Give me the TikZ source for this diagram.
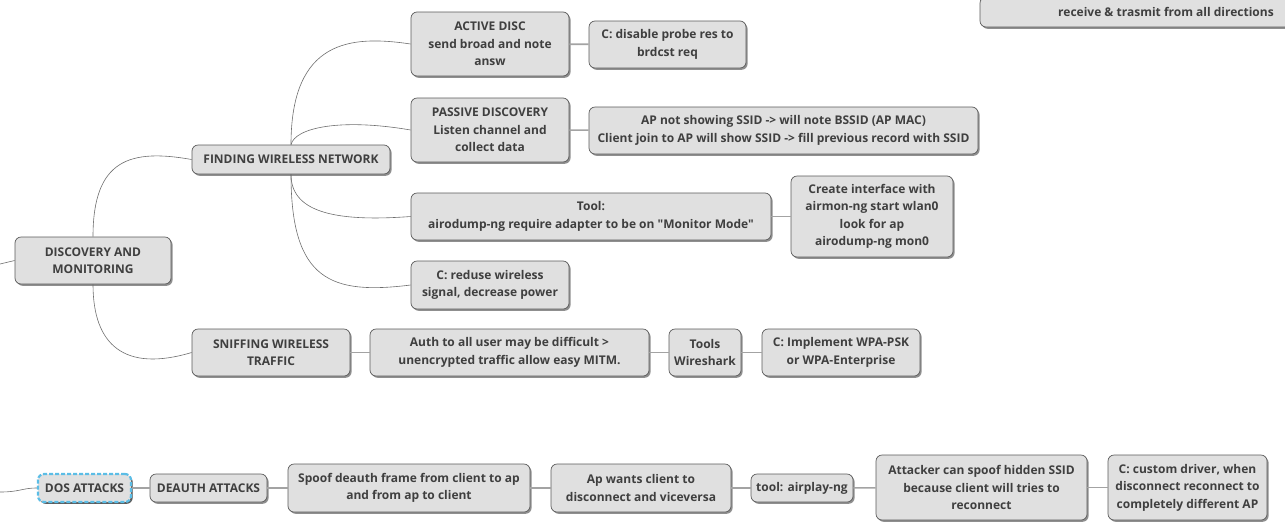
\documentclass[tikz,border=0pt]{standalone}
\usepackage{fontspec}
\setmainfont{Open Sans}[Ligatures=TeXOff]
\usetikzlibrary{shadows}
\definecolor{boxfill}{HTML}{E0E0E0}
\definecolor{boxline}{HTML}{5A5A5A}
\definecolor{boxtext}{HTML}{3F3F3F}
\definecolor{linkgray}{HTML}{A3A3A3}
\definecolor{branchgray}{HTML}{6E6E6E}
\definecolor{selblue}{HTML}{5BBDE6}

\begin{document}
\begin{tikzpicture}[x=1pt, y=-1pt,
    topic/.style={draw=boxline, fill=boxfill, rounded corners=6pt, line width=0.7pt,
      text=boxtext, font=\fontsize{12}{17.5}\selectfont\bfseries, align=center, inner sep=2pt,
      drop shadow={shadow xshift=1.6pt, shadow yshift=-1.8pt, fill=black!55, opacity=0.8}},
    link/.style={draw=linkgray, line width=1.6pt},
    branch/.style={draw=branchgray, line width=0.6pt}]
      \useasboundingbox (0,0) rectangle (1285,531);

      \node[topic, minimum width=372pt, minimum height=30pt] (omni) at (1166,12) {receive \& trasmit from all directions};

      \node[topic, minimum width=156pt, minimum height=47pt] (disc) at (93,260.5) {DISCOVERY AND\\MONITORING};
      \node[topic, minimum width=198pt, minimum height=29pt] (findnet) at (291,159.5) {FINDING WIRELESS NETWORK};
      \node[topic, minimum width=158pt, minimum height=64pt] (activedisc) at (490,44) {ACTIVE DISC\\send broad and note\\answ};
      \node[topic, minimum width=157pt, minimum height=47pt] (probefix) at (667.5,44.5) {C: disable probe res to\\brdcst req};
      \node[topic, minimum width=158pt, minimum height=64pt] (passivedisc) at (490,130) {PASSIVE DISCOVERY\\Listen channel and\\collect data};
      \node[topic, minimum width=389pt, minimum height=47pt] (hiddenssid) at (783.5,130.5) {AP not showing SSID -> will note BSSID (AP MAC)\\Client join to AP will show SSID -> fill previous record with SSID};
      \node[topic, minimum width=360pt, minimum height=47pt] (airodump) at (591,216.5) {Tool:\\airodump-ng require adapter to be on "Monitor Mode"};
      \node[topic, minimum width=162pt, minimum height=81pt] (airmon) at (872,216.5) {Create interface with\\airmon-ng start wlan0\\look for ap\\airodump-ng mon0};
      \node[topic, minimum width=158pt, minimum height=48pt] (reducesig) at (490,285) {C: reduse wireless\\signal, decrease power};

      \node[topic, minimum width=158pt, minimum height=47pt] (sniff) at (271,352.5) {SNIFFING WIRELESS\\TRAFFIC};
      \node[topic, minimum width=279pt, minimum height=47pt] (authmitm) at (509.5,352.5) {Auth to all user may be difficult >\\unencrypted traffic allow easy MITM.};
      \node[topic, minimum width=72pt, minimum height=47pt] (wireshark) at (705,352.5) {Tools\\Wireshark};
      \node[topic, minimum width=158pt, minimum height=47pt] (wpafix) at (841,352.5) {C: Implement WPA-PSK\\or WPA-Enterprise};

      \node[topic, draw=selblue, line width=2.2pt, dash pattern=on 4pt off 2pt, minimum width=93pt, minimum height=28pt,
        drop shadow={shadow xshift=1.6pt, shadow yshift=-1.8pt, fill=black!85}] (dos) at (84.5,488) {DOS ATTACKS};
      \node[topic, minimum width=117pt, minimum height=28pt] (deauth) at (208.5,488) {DEAUTH ATTACKS};
      \node[topic, minimum width=242pt, minimum height=48pt] (spoofframe) at (409,488) {Spoof deauth frame from client to ap\\and from ap to client};
      \node[topic, minimum width=180pt, minimum height=48pt] (disconnect) at (641,488) {Ap wants client to\\disconnect and viceversa};
      \node[topic, minimum width=102pt, minimum height=28pt] (aireplay) at (802,488) {tool: airplay-ng};
      \node[topic, minimum width=211pt, minimum height=65pt] (spoofssid) at (981.5,487.5) {Attacker can spoof hidden SSID\\because client will tries to\\reconnect};
      \node[topic, minimum width=159pt, minimum height=65pt] (customdrv) at (1187.5,487.5) {C: custom driver, when\\disconnect reconnect to\\completely different AP};

      \coordinate (discin) at (0,264);
      \coordinate (dosin) at (0,492);

      \draw[branch] (discin) -- (disc.west);
      \draw[branch] (disc.north) .. controls +(0,-77) and +(-62,-11) .. (findnet.west);
      \draw[branch] (disc.south) .. controls +(0,61) and +(-67,20) .. (sniff.west);
      \draw[branch] (findnet.north) .. controls +(0,-105) and +(-60,-9) .. (activedisc.west);
      \draw[branch] (findnet.north) .. controls +(4,-17) and +(-70,-12) .. (passivedisc.west);
      \draw[branch] (findnet.south) .. controls +(0,36) and +(-80,6) .. (airodump.west);
      \draw[branch] (findnet.south) .. controls +(0,106) and +(-80,10) .. (reducesig.west);
      \draw[branch] (dosin) .. controls +(20,0) and +(-15,0) .. (dos.west);

      \draw[link] (activedisc) -- (probefix);
      \draw[link] (passivedisc) -- (hiddenssid);
      \draw[link] (airodump) -- (airmon);
      \draw[link] (sniff) -- (authmitm);
      \draw[link] (authmitm) -- (wireshark);
      \draw[link] (wireshark) -- (wpafix);
      \draw[link] (dos) -- (deauth);
      \draw[link] (deauth) -- (spoofframe);
      \draw[link] (spoofframe) -- (disconnect);
      \draw[link] (disconnect) -- (aireplay);
      \draw[link] (aireplay) -- (spoofssid);
      \draw[link] (spoofssid) -- (customdrv);

    \end{tikzpicture}
\end{document}
